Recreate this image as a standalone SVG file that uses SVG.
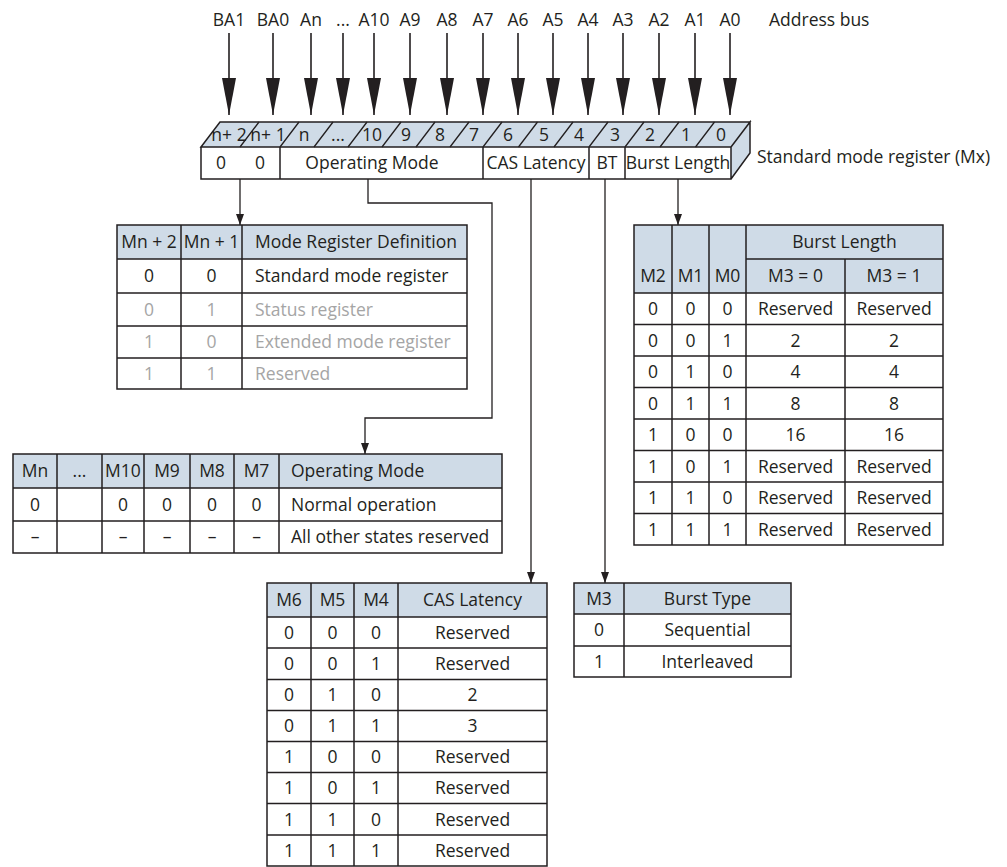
<svg xmlns="http://www.w3.org/2000/svg" width="1007" height="867" viewBox="0 0 1007 867">
<style>
.t{font-family:"Open Sans","Noto Sans","DejaVu Sans",sans-serif;font-size:17.5px;fill:#231f20}
.c{text-anchor:middle}
.g{fill:#a5a5a5}
.hdr{fill:#cfdbe7;stroke:none}
.bd{fill:none;stroke:#231f20;stroke-width:1.5}
.cn{fill:none;stroke:#231f20;stroke-width:1.3}
.bus{fill:none;stroke:#231f20;stroke-width:1.6}
</style>
<defs>
<marker id="big" markerUnits="userSpaceOnUse" viewBox="0 0 37 14" refX="37" refY="7" markerWidth="37" markerHeight="14" orient="auto"><path d="M0,0 L37,7 L0,14 z" fill="#231f20"/></marker>
<marker id="small" markerUnits="userSpaceOnUse" viewBox="0 0 11 8" refX="11" refY="4" markerWidth="11" markerHeight="8" orient="auto"><path d="M0,0 L11,4 L0,8 z" fill="#231f20"/></marker>
</defs>
<rect width="1007" height="867" fill="#fff"/>

<g id="address-bus">
<g class="bus" marker-end="url(#big)">
<path d="M229,33V115"/><path d="M273,33V115"/><path d="M311,33V115"/><path d="M343,33V115"/><path d="M374,33V115"/><path d="M410,33V115"/><path d="M447,33V115"/><path d="M483,33V115"/><path d="M518,33V115"/><path d="M553,33V115"/><path d="M588,33V115"/><path d="M623,33V115"/><path d="M659,33V115"/><path d="M695,33V115"/><path d="M730,33V115"/>
</g>
<g class="t c">
<text x="229" y="26">BA1</text><text x="273" y="26">BA0</text><text x="311" y="26">An</text><text x="343" y="26">...</text><text x="374" y="26">A10</text><text x="410" y="26">A9</text><text x="447" y="26">A8</text><text x="483" y="26">A7</text><text x="518" y="26">A6</text><text x="553" y="26">A5</text><text x="588" y="26">A4</text><text x="623" y="26">A3</text><text x="659" y="26">A2</text><text x="695" y="26">A1</text><text x="730" y="26">A0</text>
</g>
<text class="t" x="769" y="26">Address bus</text>
</g>

<g id="register">
<path d="M201,147 L220,122 L750,122 L731,147 Z" class="hdr"/>
<path d="M731,147 L750,122 L750,153 L731,179 Z" class="hdr"/>
<rect x="201" y="147" width="530" height="32" fill="#fff"/>
<path class="bd" d="M201,147 L220,122 L750,122 L731,147 Z M731,147 L750,122 L750,153 L731,179 M201,147 H731 V179 H201 Z"/>
<path class="bd" d="M280,147V179 M483,147V179 M589,147V179 M625,147V179"/>
<path class="cn" d="M240,147l19,-25 M280,147l19,-25 M314,147l19,-25 M348,147l19,-25 M382,147l19,-25 M416,147l19,-25 M450,147l19,-25 M483,147l19,-25 M518.5,147l19,-25 M554,147l19,-25 M589,147l19,-25 M625,147l19,-25 M660,147l19,-25 M695.5,147l19,-25"/>
<g class="t c">
<text x="229" y="141">n+ 2</text><text x="268" y="141">n+ 1</text><text x="304" y="141">n</text><text x="338" y="141">...</text><text x="372" y="141">10</text><text x="406" y="141">9</text><text x="440" y="141">8</text><text x="474" y="141">7</text><text x="508" y="141">6</text><text x="544" y="141">5</text><text x="579" y="141">4</text><text x="615" y="141">3</text><text x="650" y="141">2</text><text x="686" y="141">1</text><text x="721" y="141">0</text>
<text x="221" y="169">0</text><text x="260" y="169">0</text>
<text x="372" y="169">Operating Mode</text>
<text x="536" y="169">CAS Latency</text>
<text x="607" y="169">BT</text>
<text x="678" y="169">Burst Length</text>
</g>
<text class="t" x="757" y="163">Standard mode register (Mx)</text>
</g>

<g id="connectors" class="cn" marker-end="url(#small)">
<path d="M240,179V225"/>
<path d="M368,179V203H492V418H365V454"/>
<path d="M531,179V583"/>
<path d="M605,179V583"/>
<path d="M678,179V225"/>
</g>

<g id="mode-register-definition">
<rect x="117" y="225" width="350" height="34" class="hdr"/>
<path class="bd" d="M117,225H467V389H117Z M117,259H467 M117,293H467 M117,326H467 M117,358H467 M181,225V389 M242,225V389"/>
<g class="t c">
<text x="149" y="248">Mn + 2</text><text x="211.5" y="248">Mn + 1</text>
<text x="149" y="282">0</text><text x="211.5" y="282">0</text>
<text x="149" y="315.5" class="g">0</text><text x="211.5" y="315.5" class="g">1</text>
<text x="149" y="348" class="g">1</text><text x="211.5" y="348" class="g">0</text>
<text x="149" y="379.5" class="g">1</text><text x="211.5" y="379.5" class="g">1</text>
</g>
<g class="t">
<text x="255" y="248">Mode Register Definition</text>
<text x="255" y="282">Standard mode register</text>
<text x="255" y="315.5" class="g">Status register</text>
<text x="255" y="348" class="g">Extended mode register</text>
<text x="255" y="379.5" class="g">Reserved</text>
</g>
</g>

<g id="operating-mode">
<rect x="13" y="454" width="489" height="34" class="hdr"/>
<path class="bd" d="M13,454H502V553H13Z M13,488H502 M13,521H502 M57,454V553 M102,454V553 M144,454V553 M190,454V553 M234,454V553 M279,454V553"/>
<g class="t c">
<text x="35" y="477">Mn</text><text x="79.5" y="477">...</text><text x="123" y="477">M10</text><text x="167" y="477">M9</text><text x="212" y="477">M8</text><text x="256.5" y="477">M7</text>
<text x="35" y="510.5">0</text><text x="123" y="510.5">0</text><text x="167" y="510.5">0</text><text x="212" y="510.5">0</text><text x="256.5" y="510.5">0</text>
<text x="35" y="543">–</text><text x="123" y="543">–</text><text x="167" y="543">–</text><text x="212" y="543">–</text><text x="256.5" y="543">–</text>
</g>
<g class="t">
<text x="291" y="477">Operating Mode</text>
<text x="291" y="510.5">Normal operation</text>
<text x="291" y="543">All other states reserved</text>
</g>
</g>

<g id="burst-length">
<rect x="634" y="225" width="309" height="68" class="hdr"/>
<path class="bd" d="M634,225H943V545H634Z M746,259H943 M634,293H943 M634,324.5H943 M634,356H943 M634,387.5H943 M634,419H943 M634,450.5H943 M634,482H943 M634,513.5H943 M672,225V545 M709,225V545 M746,225V545 M845,259V545"/>
<g class="t c">
<text x="844.5" y="248">Burst Length</text>
<text x="653" y="282">M2</text><text x="690.5" y="282">M1</text><text x="727.5" y="282">M0</text><text x="795.5" y="282">M3 = 0</text><text x="894" y="282">M3 = 1</text>
<text x="653" y="315">0</text><text x="690.5" y="315">0</text><text x="727.5" y="315">0</text><text x="795.5" y="315">Reserved</text><text x="894" y="315">Reserved</text>
<text x="653" y="346.5">0</text><text x="690.5" y="346.5">0</text><text x="727.5" y="346.5">1</text><text x="795.5" y="346.5">2</text><text x="894" y="346.5">2</text>
<text x="653" y="378">0</text><text x="690.5" y="378">1</text><text x="727.5" y="378">0</text><text x="795.5" y="378">4</text><text x="894" y="378">4</text>
<text x="653" y="409.5">0</text><text x="690.5" y="409.5">1</text><text x="727.5" y="409.5">1</text><text x="795.5" y="409.5">8</text><text x="894" y="409.5">8</text>
<text x="653" y="441">1</text><text x="690.5" y="441">0</text><text x="727.5" y="441">0</text><text x="795.5" y="441">16</text><text x="894" y="441">16</text>
<text x="653" y="472.5">1</text><text x="690.5" y="472.5">0</text><text x="727.5" y="472.5">1</text><text x="795.5" y="472.5">Reserved</text><text x="894" y="472.5">Reserved</text>
<text x="653" y="504">1</text><text x="690.5" y="504">1</text><text x="727.5" y="504">0</text><text x="795.5" y="504">Reserved</text><text x="894" y="504">Reserved</text>
<text x="653" y="535.5">1</text><text x="690.5" y="535.5">1</text><text x="727.5" y="535.5">1</text><text x="795.5" y="535.5">Reserved</text><text x="894" y="535.5">Reserved</text>
</g>
</g>

<g id="cas-latency">
<rect x="267" y="583" width="280" height="34" class="hdr"/>
<path class="bd" d="M267,583H547V866H267Z M267,617H547 M267,648H547 M267,679.5H547 M267,710.5H547 M267,741.5H547 M267,772.5H547 M267,803.5H547 M267,835H547 M311,583V866 M354,583V866 M398,583V866"/>
<g class="t c">
<text x="289" y="606">M6</text><text x="332.5" y="606">M5</text><text x="376" y="606">M4</text><text x="472.5" y="606">CAS Latency</text>
<text x="289" y="638.5">0</text><text x="332.5" y="638.5">0</text><text x="376" y="638.5">0</text><text x="472.5" y="638.5">Reserved</text>
<text x="289" y="670">0</text><text x="332.5" y="670">0</text><text x="376" y="670">1</text><text x="472.5" y="670">Reserved</text>
<text x="289" y="701">0</text><text x="332.5" y="701">1</text><text x="376" y="701">0</text><text x="472.5" y="701">2</text>
<text x="289" y="732">0</text><text x="332.5" y="732">1</text><text x="376" y="732">1</text><text x="472.5" y="732">3</text>
<text x="289" y="763">1</text><text x="332.5" y="763">0</text><text x="376" y="763">0</text><text x="472.5" y="763">Reserved</text>
<text x="289" y="794">1</text><text x="332.5" y="794">0</text><text x="376" y="794">1</text><text x="472.5" y="794">Reserved</text>
<text x="289" y="825.5">1</text><text x="332.5" y="825.5">1</text><text x="376" y="825.5">0</text><text x="472.5" y="825.5">Reserved</text>
<text x="289" y="856.5">1</text><text x="332.5" y="856.5">1</text><text x="376" y="856.5">1</text><text x="472.5" y="856.5">Reserved</text>
</g>
</g>

<g id="burst-type">
<rect x="574" y="583" width="217" height="31" class="hdr"/>
<path class="bd" d="M574,583H791V677H574Z M574,614H791 M574,646H791 M624,583V677"/>
<g class="t c">
<text x="599" y="604.5">M3</text><text x="707.5" y="604.5">Burst Type</text>
<text x="599" y="636">0</text><text x="707.5" y="636">Sequential</text>
<text x="599" y="667.5">1</text><text x="707.5" y="667.5">Interleaved</text>
</g>
</g>
</svg>
